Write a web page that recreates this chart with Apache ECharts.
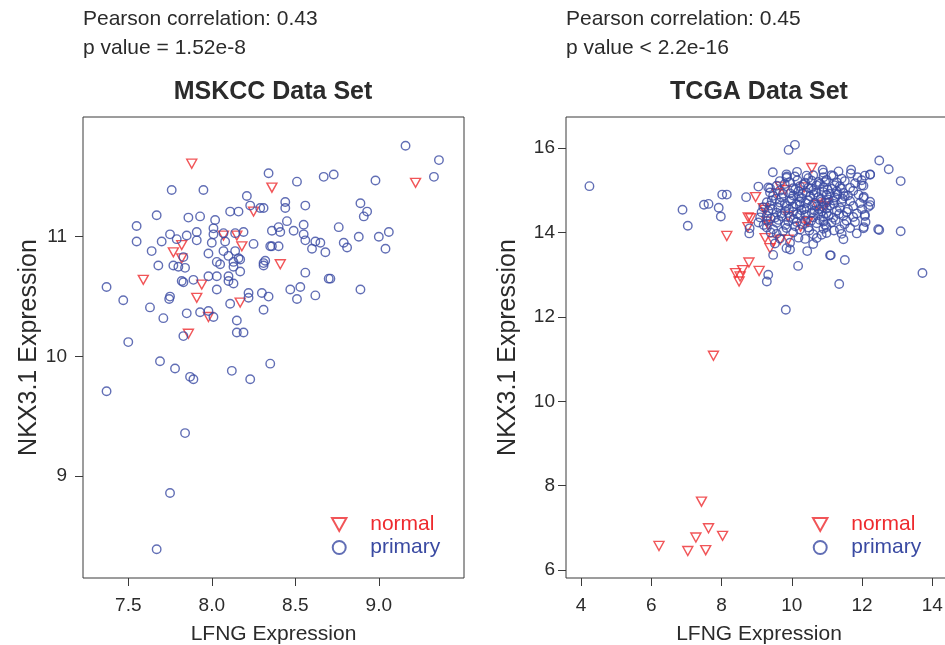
<!DOCTYPE html>
<html>
<head>
<meta charset="utf-8">
<script src="https://cdn.jsdelivr.net/npm/echarts@6/dist/echarts.min.js"></script>
<style>html,body{margin:0;padding:0;background:#fff}#c{width:945px;height:645px}</style>
</head>
<body>
<div id="c"></div>
<script>
// ---- MSKCC data (LFNG, NKX3.1) ----
const mskccPrimary = [
[9.16,11.76],[9.36,11.64],[9.33,11.50],[8.34,11.53],[8.51,11.46],[8.67,11.50],[8.73,11.52],[8.98,11.47],
[7.76,11.39],[7.95,11.39],[8.21,11.34],[8.23,11.26],[8.29,11.24],[8.31,11.24],[8.44,11.29],[8.44,11.24],
[8.56,11.26],[8.89,11.28],[8.93,11.21],[8.91,11.17],[7.67,11.18],[7.86,11.16],[7.93,11.17],[8.02,11.14],
[8.11,11.21],[8.16,11.21],[7.55,11.09],[7.55,10.96],[7.64,10.88],[7.70,10.96],[7.75,11.02],[7.79,10.98],
[7.85,11.01],[7.91,11.04],[7.91,10.97],[8.01,11.07],[8.01,11.02],[8.00,10.95],[8.07,11.03],[8.08,10.96],
[8.14,11.03],[8.19,11.04],[8.25,10.94],[8.36,11.05],[8.40,11.08],[8.41,11.04],[8.45,11.13],[8.49,11.05],
[8.55,11.10],[8.55,11.02],[8.56,10.97],[8.76,11.08],[8.88,11.00],[9.00,11.00],[9.06,11.04],[9.04,10.90],
[8.79,10.95],[8.81,10.91],[8.62,10.96],[8.65,10.95],[8.60,10.90],[8.68,10.87],[8.36,10.92],[8.40,10.92],
[8.35,10.92],[7.98,10.86],[8.07,10.88],[8.14,10.88],[8.10,10.84],[8.16,10.82],[8.03,10.79],[8.05,10.77],
[8.13,10.79],[8.13,10.75],[8.17,10.81],[7.68,10.76],[7.77,10.76],[7.80,10.75],[7.84,10.74],[7.83,10.83],
[8.31,10.78],[8.32,10.80],[8.31,10.76],[8.17,10.71],[8.56,10.70],[7.82,10.63],[7.83,10.62],[7.89,10.64],
[7.98,10.67],[8.03,10.67],[8.10,10.67],[8.10,10.63],[8.13,10.61],[8.70,10.65],[8.71,10.65],[7.37,10.58],
[8.53,10.58],[8.47,10.56],[8.89,10.56],
[7.47,10.47],[7.63,10.41],[7.75,10.50],[7.745,10.48],[7.71,10.32],[7.85,10.36],[7.93,10.37],[7.98,10.38],
[8.01,10.33],[8.03,10.56],[8.11,10.44],[8.22,10.53],[8.22,10.49],[8.30,10.53],[8.34,10.50],[8.31,10.39],
[8.51,10.48],[8.62,10.51],[8.15,10.30],[8.15,10.20],[8.19,10.20],[7.83,10.17],[7.50,10.12],[7.69,9.96],
[7.78,9.90],[7.87,9.83],[7.89,9.81],[8.12,9.88],[8.23,9.81],[8.35,9.94],[7.37,9.71],[7.84,9.36],
[7.75,8.86],[7.67,8.39]
];
const mskccNormal = [
[7.88,11.61],[8.36,11.41],[9.22,11.45],[8.25,11.21],[8.07,11.01],[8.15,11.01],[8.18,10.92],[7.82,10.93],
[7.77,10.87],[7.82,10.82],[8.41,10.77],[7.59,10.64],[7.94,10.60],[7.91,10.49],[8.17,10.45],[7.98,10.33],[7.86,10.19]
];
// ---- TCGA data (LFNG, NKX3.1) ----
const tcgaNormal = [
[10.57,15.53],[8.97,14.84],[8.15,13.92],[8.76,14.36],[8.83,14.34],[8.75,14.13],[9.19,14.58],[9.24,13.87],
[9.38,13.63],[9.47,13.79],[9.90,13.83],[10.25,14.14],[10.47,14.26],[8.78,13.29],[8.60,13.11],[8.40,13.04],
[8.53,12.96],[8.50,12.84],[9.07,13.09],[7.77,11.08],[7.43,7.62],[7.63,6.99],[7.27,6.77],[8.03,6.81],
[6.22,6.57],[7.04,6.45],[7.55,6.47],[9.67,15.09],[9.57,14.93],[10.35,15.07],[10.99,14.70],[10.71,14.66],
[9.24,14.54],[9.29,14.26],[9.90,14.38],[10.43,14.26],[9.81,15.01],[10.90,14.62],[9.33,14.18],[9.67,13.83]
];
const tcgaPrimary = [
[4.24,15.10],[6.89,14.54],[7.04,14.16],[7.50,14.66],[7.63,14.68],[7.92,14.59],[7.98,14.38],[8.02,14.90],[8.15,14.90],
[8.70,14.84],[9.05,15.09],[9.46,15.43],[9.91,15.96],[10.09,16.08],[12.49,15.71],[12.76,15.50],[13.10,15.22],
[13.10,14.03],[12.49,14.06],[13.72,13.04],[11.35,12.78],[9.29,12.84],[9.33,13.00],[10.18,13.21],[11.11,13.46],
[11.51,13.35],[10.44,13.56],[9.47,13.47],[8.79,13.98],[8.80,14.10],[9.83,12.17],[9.86,15.33],[10.88,15.49],
[11.69,15.49],[12.23,15.38],[12.04,15.11],[9.38,15.05],
[9.85,15.38],[10.15,15.44],[10.42,15.35],[10.90,15.42],[11.13,15.36],[11.33,15.45],[11.68,15.40],[12.23,15.37],
[9.85,15.30],[10.09,15.33],[10.47,15.29],[10.61,15.36],[10.90,15.31],[11.18,15.34],[11.42,15.28],[11.87,15.31],[12.08,15.35],
[9.66,15.22],[9.95,15.19],[10.16,15.24],[10.38,15.18],[10.57,15.23],[10.76,15.20],[10.99,15.25],[11.28,15.19],[11.51,15.22],[11.80,15.17],[11.99,15.24],
[9.33,15.07],[9.57,15.11],[10.04,15.05],[10.23,15.10],[10.47,15.06],[10.71,15.12],[10.90,15.08],[11.14,15.04],[11.37,15.10],[11.66,15.06],[11.99,15.12],
[9.38,14.95],[9.66,14.99],[9.95,14.93],[10.19,14.98],[10.42,14.95],[10.61,15.00],[10.90,14.96],[11.09,14.92],[11.28,14.98],[11.47,14.94],[11.75,14.99],
[9.47,14.87],[9.71,14.83],[10.04,14.88],[10.28,14.82],[10.52,14.86],[10.76,14.84],[10.99,14.89],[11.23,14.83],[11.51,14.86],[12.04,14.82],
[9.29,14.72],[9.43,14.76],[9.66,14.71],[9.95,14.75],[10.23,14.73],[10.47,14.77],[10.66,14.70],[10.85,14.74],[10.99,14.71],[11.18,14.76],[11.42,14.72],[11.66,14.75],[11.94,14.70],[12.23,14.73],
[9.19,14.60],[9.38,14.64],[9.62,14.59],[9.85,14.63],[10.04,14.61],[10.23,14.65],[10.42,14.58],[10.71,14.62],[10.90,14.60],[11.09,14.64],[11.37,14.59],[11.75,14.63],[12.18,14.61],
[9.14,14.48],[9.33,14.52],[9.57,14.47],[9.81,14.51],[10.04,14.49],[10.28,14.53],[10.57,14.47],[10.85,14.50],[10.99,14.46],[11.28,14.52],[11.56,14.49],
[9.10,14.36],[9.29,14.40],[9.52,14.35],[9.71,14.39],[9.95,14.37],[10.23,14.41],[10.61,14.36],[10.90,14.38],[11.18,14.35],[11.47,14.40],[11.75,14.37],[12.08,14.39],
[9.05,14.24],[9.29,14.28],[9.57,14.23],[9.90,14.27],[10.14,14.25],[10.38,14.29],[10.71,14.22],[10.90,14.26],[11.13,14.24],[11.56,14.28],[11.80,14.25],
[9.29,14.12],[9.47,14.08],[9.85,14.11],[10.23,14.07],[10.47,14.12],[10.90,14.09],[10.99,14.13],[11.37,14.08],[11.66,14.11],[12.04,14.10],[12.46,14.08],
[9.57,13.97],[10.04,14.00],[10.61,13.96],[10.99,13.99],[11.42,13.97],[11.85,13.98],
[9.66,13.86],[10.19,13.88],[10.38,13.85],[10.71,13.87],[11.47,13.84],
[9.52,13.74],[9.95,13.76],[10.61,13.73],[9.85,13.63],[9.95,13.60],[11.09,13.46],
[9.80,15.15],[10.10,15.02],[10.33,15.14],[10.55,15.05],[10.80,15.16],[11.02,15.02],[11.22,15.12],
[9.75,14.92],[10.00,14.80],[10.31,14.93],[10.40,14.70],[10.62,14.90],[10.83,14.80],[11.05,14.78],[11.30,14.91],
[9.55,14.80],[9.80,14.68],[10.12,14.67],[10.35,14.55],[10.58,14.64],[10.78,14.56],[11.00,14.57],[11.20,14.68],[11.45,14.80],
[9.45,14.55],[9.70,14.45],[9.92,14.56],[10.15,14.44],[10.40,14.42],[10.65,14.52],[10.80,14.30],[11.05,14.40],[11.35,14.44],
[9.40,14.33],[9.62,14.30],[9.82,14.18],[10.05,14.32],[10.30,14.20],[10.55,14.28],[10.75,14.45],[10.95,14.18],[11.25,14.30],
[9.20,14.18],[9.40,14.00],[9.75,14.03],[10.10,14.15],[10.50,14.05],[10.85,13.95],[11.20,14.05],
[10.20,14.86],[10.70,14.95],[10.95,15.20],[11.40,15.05],[11.60,14.88],[11.90,14.90],[11.60,14.55],[11.85,14.45],
[12.00,14.55],[11.50,14.20],[12.10,14.25],[12.05,14.85],[12.23,14.65],[12.08,14.42],[12.05,14.13]
];
// ---- ticks ----
const mskccXTicks = [7.5, 8.0, 8.5, 9.0];
const mskccYTicks = [9, 10, 11];
const tcgaXTicks = [4, 6, 8, 10, 12, 14];
const tcgaYTicks = [6, 8, 10, 12, 14, 16];

const FONT = '"Liberation Sans", Arial, Helvetica, sans-serif';
const RED = '#ee2a2e';
const BLUE = '#3a4aa2';
const TXT = '#2b2b2b';
const LINE = '#3a3a3a';
const TRI = 'path://M0,0L10,0L5,9Z';

function xAx(gi, min, max, ticks, fmt) {
  return {
    gridIndex: gi, type: 'value', min: min, max: max, position: 'bottom',
    splitLine: {show: false},
    axisLine: {show: false, onZero: false},
    axisTick: {show: true, customValues: ticks, length: 8, lineStyle: {color: LINE, width: 1}},
    axisLabel: {customValues: ticks, formatter: fmt, margin: 18, fontSize: 19, color: TXT, fontFamily: FONT},
    name: 'LFNG Expression', nameLocation: 'middle', nameGap: 46,
    nameTextStyle: {fontSize: 21, color: TXT, fontFamily: FONT}
  };
}
function yAx(gi, min, max, ticks, margin, gap) {
  return {
    gridIndex: gi, type: 'value', min: min, max: max, position: 'left',
    splitLine: {show: false},
    axisLine: {show: false, onZero: false},
    axisTick: {show: true, customValues: ticks, length: 8, lineStyle: {color: LINE, width: 1}},
    axisLabel: {customValues: ticks, formatter: v => String(v), margin: margin, fontSize: 19, color: TXT, fontFamily: FONT},
    name: 'NKX3.1 Expression', nameLocation: 'middle', nameGap: gap, nameRotate: 90,
    nameTextStyle: {fontSize: 25, color: TXT, fontFamily: FONT}
  };
}
function ser(name, gi, data, isNormal) {
  return {
    name: name, type: 'scatter', xAxisIndex: gi, yAxisIndex: gi, data: data,
    symbol: isNormal ? TRI : 'circle',
    symbolSize: isNormal ? [10, 9] : 8.5,
    itemStyle: {color: 'rgba(255,255,255,0)', borderColor: isNormal ? RED : BLUE, borderWidth: 1.4},
    emphasis: {disabled: true}, z: isNormal ? 2 : 3
  };
}
function leg(left) {
  return {
    left: left, top: 514, padding: 0, orient: 'vertical', itemWidth: 16, itemHeight: 13, itemGap: 2,
    selectedMode: false,
    textStyle: {fontSize: 21, fontFamily: FONT, lineHeight: 16, padding: [0, 0, 0, 18]},
    data: [
      {name: 'normal', icon: TRI, textStyle: {color: RED}},
      {name: 'primary', icon: 'circle', textStyle: {color: BLUE}}
    ]
  };
}
function txt(x, y, s, size, bold, align) {
  return {type: 'text', x: x, y: y, style: {text: s, fill: TXT, font: (bold ? 'bold ' : '') + size + 'px ' + FONT, verticalAlign: 'middle', align: align || 'left'}};
}

const chart = echarts.init(document.getElementById('c'), null, {renderer: 'canvas'});
chart.setOption({
  animation: false,
  backgroundColor: '#ffffff',
  grid: [
    {left: 83, top: 117, width: 381, height: 461, show: true, borderColor: LINE, borderWidth: 1,
     backgroundColor: 'transparent', containLabel: false, outerBoundsMode: 'none'},
    {left: 566, top: 117, width: 386, height: 461, show: true, borderColor: LINE, borderWidth: 1,
     backgroundColor: 'transparent', containLabel: false, outerBoundsMode: 'none'}
  ],
  xAxis: [
    xAx(0, 7.229, 9.51, mskccXTicks, v => v.toFixed(1)),
    xAx(1, 3.573, 14.561, tcgaXTicks, v => String(v))
  ],
  yAxis: [
    yAx(0, 8.15, 12.0, mskccYTicks, 16, 30),
    yAx(1, 5.81, 16.74, tcgaYTicks, 11, 45)
  ],
  legend: [leg(331), leg(812)],
  graphic: [
    txt(83, 19, 'Pearson correlation: 0.43', 21),
    txt(83, 48, 'p value = 1.52e-8', 21),
    txt(273, 92, 'MSKCC Data Set', 25, true, 'center'),
    txt(566, 19, 'Pearson correlation: 0.45', 21),
    txt(566, 48, 'p value < 2.2e-16', 21),
    txt(759, 92, 'TCGA Data Set', 25, true, 'center')
  ],
  series: [
    ser('normal', 0, mskccNormal, true),
    ser('primary', 0, mskccPrimary, false),
    ser('normal', 1, tcgaNormal, true),
    ser('primary', 1, tcgaPrimary, false)
  ]
});
</script>
</body>
</html>
